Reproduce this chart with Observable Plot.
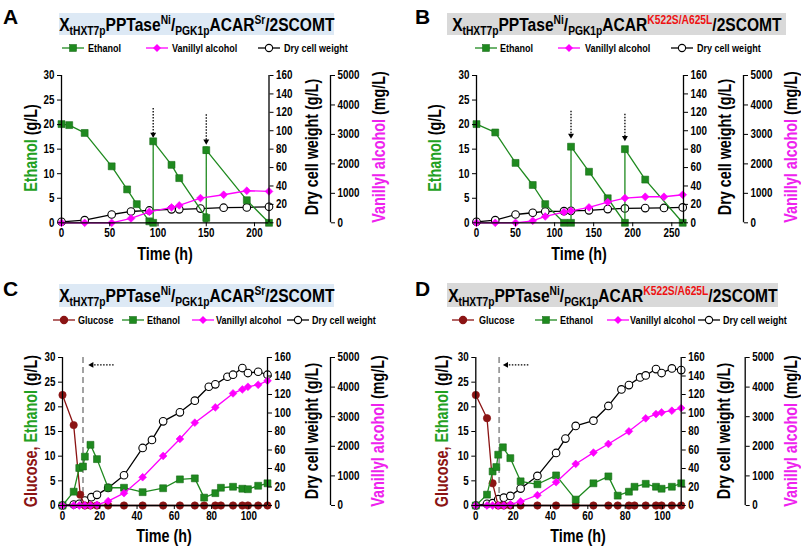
<!DOCTYPE html>
<html><head><meta charset="utf-8">
<script src="https://cdn.jsdelivr.net/npm/d3@7"></script>
<script src="https://cdn.jsdelivr.net/npm/@observablehq/plot@0.6"></script>
<style>
body{margin:0;background:#fff;}
#fig{position:relative;width:801px;height:550px;overflow:hidden;background:#fff;
 font-family:"Liberation Sans",Arial,sans-serif;font-weight:bold;color:#000;}
.abs{position:absolute;white-space:nowrap;line-height:1;}
.letter{font-size:21px;}
.tbox{position:absolute;display:flex;align-items:center;justify-content:center;white-space:nowrap;line-height:1;}
.tbox span.in{display:inline-block;font-size:19px;transform:scaleX(0.82);}
.tbox sub{font-size:12.5px;vertical-align:-4px;line-height:0;}
.tbox sup{font-size:12.5px;vertical-align:7px;line-height:0;}
.vt{position:absolute;white-space:nowrap;font-size:17.5px;line-height:1;transform:translate(-50%,-50%) rotate(-90deg) scaleX(0.82);}
.xt{position:absolute;white-space:nowrap;font-size:17.5px;line-height:1;transform:translate(-50%,-50%) scaleX(0.82);}
.legt{position:absolute;white-space:nowrap;font-size:11px;line-height:1;transform-origin:0 50%;transform:translateY(-50%) scaleX(0.82);}
.legi{position:absolute;transform:translateY(-50%);line-height:0;}
svg.plt{position:absolute;}
</style></head><body><div id="fig"></div><script>
// ---------- tick values ----------
const xTicksA = [0, 50, 100, 150, 200];
const xTicksB = [0, 50, 100, 150, 200, 250];
const xTicksCD = [0, 20, 40, 60, 80, 100];
const yTicksE = [0, 5, 10, 15, 20, 25, 30];
const yTicksDcw = [0, 20, 40, 60, 80, 100, 120, 140, 160];
const yTicksVan = [0, 1000, 2000, 3000, 4000, 5000];

// ---------- Panel A ----------
const aEthT = [0, 8, 24, 52, 68, 78, 91, 95, 95, 114, 122, 150, 150, 192, 215];
const aEthV = [20.1, 19.9, 18.3, 11.5, 6.8, 3.8, 0.3, 0, 16.6, 11.8, 9.1, 1.0, 14.8, 4.6, 0];
const aEthE = [0, 0, 0, 0, 0, 0, 0, 0, 0, 0, 0, 0.8, 0.6, 0, 0];
const aT = [0, 24, 52, 72, 91, 114, 122, 144, 168, 192, 215];
const aDcw = [1.1, 2.9, 9.0, 12.3, 13.4, 14.6, 14.6, 15.4, 16.4, 16.7, 17.4];
const aVan = [0, 0, 0, 147, 374, 522, 590, 839, 952, 1088, 1066];
const aArrT = [95, 150];
const aArrTop = [23.3, 22.0];
const aArrTip = [17.4, 16.0];

// ---------- Panel B ----------
const bEthT = [0, 24, 50, 72, 88, 112, 121, 121, 144, 168, 190, 190, 216, 264];
const bEthV = [20.1, 18.4, 12.2, 7.7, 3.8, 0, 0, 15.5, 10.4, 5.0, 0, 15.0, 8.8, 0];
const bT = [0, 24, 50, 72, 88, 112, 121, 144, 168, 190, 216, 240, 264];
const bDcw = [1.1, 2.9, 9.0, 10.9, 12.3, 12.6, 13.0, 13.5, 14.9, 15.6, 16.0, 16.2, 16.7];
const bVan = [0, 0, 0, 68, 215, 363, 408, 522, 703, 839, 884, 884, 952];
const bArrT = [121, 190];
const bArrTop = [22.7, 22.1];
const bArrTip = [17.2, 16.7];

// ---------- Panel C ----------
const cGluT = [0, 6, 9.5, 12, 15, 18.5, 24.5, 33, 43, 54, 63, 71, 76, 82, 85, 91.5, 96.5, 99.5, 105, 110];
const cGluV = [22.4, 16.3, 2.2, 0, 0, 0, 0, 0, 0, 0, 0, 0, 0, 0, 0, 0, 0, 0, 0, 0];
const cEthT = [0, 6, 9, 11, 12, 15, 18.5, 24.5, 33, 43, 54, 63, 71, 76, 82, 85, 91.5, 96.5, 99.5, 105, 110];
const cEthV = [0, 2.8, 7.6, 7.9, 9.9, 12.3, 9.4, 3.6, 3.6, 2.7, 3.5, 5.3, 5.5, 1.6, 2.5, 3.6, 3.8, 3.4, 3.3, 4.0, 4.5];
const cDcwT = [0, 6, 9, 12, 15.5, 18.5, 24.5, 33, 43, 48, 54, 63, 71, 78.5, 82, 88.5, 91.5, 96.5, 99.5, 105, 110];
const cDcwV = [0, 1.1, 1.8, 5.4, 9.0, 11.5, 19.0, 32.7, 62.2, 70.9, 91.0, 100.7, 113.3, 128.4, 131.0, 139.2, 141.4, 148.6, 143.2, 144.6, 141.4];
const cVanT = [0, 6, 9, 12, 15, 18.5, 24.5, 33, 43, 54, 63, 71, 82, 91.5, 96.5, 99.5, 105, 110];
const cVanV = [0, 0, 0, 0, 0, 22, 146, 416, 955, 1674, 2247, 2798, 3315, 3787, 3921, 4011, 4079, 4213];
const cShiftT = [11];
const cHArr = {x1: 27.7, x2: 14.3, y: 28.5};

// ---------- Panel D ----------
const dGluT = [0, 6, 9, 12, 15, 18.5, 24, 33, 43, 53.5, 63, 71, 76, 82, 85, 91, 96.5, 99.5, 105, 110];
const dGluV = [22.4, 17.7, 4.5, 0, 0, 0, 0, 0, 0, 0, 0, 0, 0, 0, 0, 0, 0, 0, 0, 0];
const dEthT = [0, 6, 9, 11, 12, 14.5, 18.5, 24, 33, 43, 53.5, 63, 71, 76, 82, 85, 91, 96.5, 99.5, 105, 110];
const dEthV = [0, 2.2, 6.9, 7.8, 10.3, 11.8, 9.6, 4.9, 4.3, 6.1, 1.2, 4.5, 5.9, 2.0, 2.8, 3.8, 4.4, 3.8, 3.4, 3.8, 4.5];
const dDcwT = [0, 6, 9, 12, 15, 18.5, 24, 33, 43, 48, 53.5, 63, 71, 78, 82, 88, 91, 96.5, 99.5, 105, 110];
const dDcwV = [0, 1.8, 2.5, 6.8, 8.5, 10.4, 18.3, 32.0, 56.8, 72.3, 86.0, 91.7, 107.6, 125.5, 130.2, 138.5, 140.6, 147.5, 143.2, 148.2, 146.4];
const dVanT = [0, 6, 9, 12, 15, 18.5, 24, 33, 43, 53.5, 63, 71, 82, 91, 96.5, 99.5, 105, 110];
const dVanV = [0, 0, 0, 0, 0, 34, 135, 348, 787, 1404, 1787, 2079, 2506, 2944, 3090, 3146, 3202, 3292];
const dShiftT = [12.5];
const dHArr = {x1: 28.4, x2: 15.0, y: 28.5};

// ---------- text ----------
const titleSr = 'X<sub>tHXT7p</sub>PPTase<sup>Ni</sup>/<sub>PGK1p</sub>ACAR<sup>Sr</sup>/2SCOMT';
const titleMut = 'X<sub>tHXT7p</sub>PPTase<sup>Ni</sup>/<sub>PGK1p</sub>ACAR<sup style="color:#ee1111">K522S/A625L</sup>/2SCOMT';

const GREEN = "#1f8a1f", GREENTXT = "#22a022", MAG = "#ff00ff", MAGTXT = "#ee22ee", DRED = "#8b1414";
const sty = {
  glucose: {label: "Glucose", stroke: DRED, fill: DRED, dotStroke: DRED, symbol: "circle", r: 3.7},
  ethanol: {label: "Ethanol", stroke: GREEN, fill: GREEN, dotStroke: "#176b17", symbol: "square", r: 3.9},
  vanillyl: {label: "Vanillyl alcohol", stroke: MAG, fill: MAG, dotStroke: MAG, symbol: "diamond2", r: 3.5},
  dcw: {label: "Dry cell weight", stroke: "#000", fill: "#fff", dotStroke: "#000", symbol: "circle", r: 3.8}
};

const zip = (t, v, e) => t.map((x, i) => ({t: x, v: v[i], e: e ? e[i] : 0}));
const toE = {
  ethanol: d3.scaleLinear([0, 30], [0, 30]),
  glucose: d3.scaleLinear([0, 30], [0, 30]),
  dcw: d3.scaleLinear([0, 160], [0, 30]),
  vanillyl: d3.scaleLinear([0, 5000], [0, 30])
};

const panels = [
  {left: 0, top: 0, mL: 61, mR: 131.5, mT: 75, mB: 52.7, xDomain: [0, 215], xTicks: xTicksA, vanDx: 61.5,
   series: {dcw: zip(aT, aDcw), ethanol: zip(aEthT, aEthV, aEthE), vanillyl: zip(aT, aVan)},
   vArrows: zip(aArrT, aArrTop).map((d, i) => ({t: d.t, top: d.v, tip: aArrTip[i]}))},
  {left: 400, top: 0, mL: 76, mR: 117, mT: 75, mB: 52.7, xDomain: [0, 265], xTicks: xTicksB, vanDx: 60,
   series: {dcw: zip(bT, bDcw), ethanol: zip(bEthT, bEthV), vanillyl: zip(bT, bVan)},
   vArrows: zip(bArrT, bArrTop).map((d, i) => ({t: d.t, top: d.v, tip: bArrTip[i]}))},
  {left: 0, top: 275, mL: 62, mR: 133, mT: 82, mB: 45, xDomain: [0, 110], xTicks: xTicksCD, vanDx: 63,
   series: {dcw: zip(cDcwT, cDcwV), glucose: zip(cGluT, cGluV), ethanol: zip(cEthT, cEthV), vanillyl: zip(cVanT, cVanV)},
   shift: cShiftT, hArrow: cHArr},
  {left: 400, top: 275, mL: 75.3, mR: 119.3, mT: 82, mB: 45, xDomain: [0, 110], xTicks: xTicksCD, vanDx: 64,
   series: {dcw: zip(dDcwT, dDcwV), glucose: zip(dGluT, dGluV), ethanol: zip(dEthT, dEthV), vanillyl: zip(dVanT, dVanV)},
   shift: dShiftT, hArrow: dHArr}
];

const fig = document.getElementById("fig");
const FONT = '"Liberation Sans",Arial,sans-serif';
const NARROW = 0.82;

function narrowTexts(svg) {
  svg.querySelectorAll("text").forEach(t => {
    const tr = t.getAttribute("transform");
    if (tr) {
      t.setAttribute("transform", tr + ` scale(${NARROW},1)`);
    } else {
      const x = +(t.getAttribute("x") || 0), y = +(t.getAttribute("y") || 0);
      t.removeAttribute("x"); t.removeAttribute("y");
      t.setAttribute("transform", `translate(${x},${y}) scale(${NARROW},1)`);
    }
  });
}

function makePlot(p) {
  const marks = [];
  const xmax = p.xDomain[1];
  if (p.shift) marks.push(Plot.ruleX(p.shift, {stroke: "#9a9a9a", strokeWidth: 1.8, strokeDasharray: "6,4"}));
  if (p.hArrow) {
    marks.push(Plot.ruleY([p.hArrow], {y: "y", x1: "x1", x2: d => d.x2 + 1.2, stroke: "#000", strokeWidth: 1.2, strokeDasharray: "1.5,1.5"}));
    marks.push(Plot.dot([p.hArrow], {x: "x2", y: "y", symbol: "triangle", rotate: -90, r: 2.2, fill: "#000", dx: 2.5}));
  }
  if (p.vArrows) {
    marks.push(Plot.ruleX(p.vArrows, {x: "t", y1: "top", y2: "tip", stroke: "#000", strokeWidth: 1.3, strokeDasharray: "1.5,1.5"}));
    marks.push(Plot.dot(p.vArrows, {x: "t", y: "tip", symbol: "triangle", rotate: 180, r: 2.2, fill: "#000", dy: -3}));
  }
  for (const key of ["dcw", "glucose", "ethanol", "vanillyl"]) {
    const data = p.series[key];
    if (!data) continue;
    const s = sty[key], f = toE[key];
    const errs = data.filter(d => d.e > 0);
    if (errs.length) {
      marks.push(Plot.ruleX(errs, {x: "t", y1: d => f(d.v - d.e), y2: d => f(d.v + d.e), stroke: s.stroke, strokeWidth: 1.2}));
      marks.push(Plot.ruleY(errs, {y: d => f(d.v + d.e), x1: d => d.t - 2.5, x2: d => d.t + 2.5, stroke: s.stroke, strokeWidth: 1.2}));
      marks.push(Plot.ruleY(errs, {y: d => f(d.v - d.e), x1: d => d.t - 2.5, x2: d => d.t + 2.5, stroke: s.stroke, strokeWidth: 1.2}));
    }
    marks.push(Plot.line(data, {x: "t", y: d => f(d.v), stroke: s.stroke, strokeWidth: 1.3}));
    marks.push(Plot.dot(data, {x: "t", y: d => f(d.v), symbol: s.symbol, r: s.r, fill: s.fill, stroke: s.dotStroke, strokeWidth: key === "dcw" ? 1.1 : 0.6}));
  }
  // spines
  marks.push(Plot.ruleY([0], {stroke: "#000", strokeWidth: 1.3}));
  marks.push(Plot.ruleX([p.xDomain[0]], {stroke: "#000", strokeWidth: 1.3}));
  marks.push(Plot.ruleX([xmax], {stroke: "#000", strokeWidth: 1.3}));
  marks.push(Plot.ruleX([xmax], {stroke: "#000", strokeWidth: 1.3, dx: p.vanDx}));
  // axes
  marks.push(Plot.axisX({ticks: p.xTicks, tickSize: 4, tickPadding: 2, label: null, tickFormat: d => String(d)}));
  marks.push(Plot.axisY({ticks: yTicksE, tickSize: 4, tickPadding: 3, label: null, tickFormat: d => String(d)}));
  marks.push(Plot.axisY(yTicksDcw.map(toE.dcw), {anchor: "right", tickSize: 4, tickPadding: 3, label: null,
    tickFormat: d => String(Math.round(toE.dcw.invert(d)))}));
  marks.push(Plot.axisY(yTicksVan.map(toE.vanillyl), {anchor: "right", tickSize: 4, tickPadding: 3, label: null, dx: p.vanDx,
    tickFormat: d => String(Math.round(toE.vanillyl.invert(d)))}));

  const svg = Plot.plot({
    width: 400, height: 275,
    marginLeft: p.mL, marginRight: p.mR, marginTop: p.mT, marginBottom: p.mB,
    x: {domain: p.xDomain, nice: false},
    y: {domain: [0, 30], nice: false},
    style: {fontFamily: FONT, fontSize: "12px", fontWeight: "bold", color: "#000", background: "transparent", overflow: "visible"},
    marks
  });
  narrowTexts(svg);
  svg.classList.add("plt");
  svg.style.left = p.left + "px";
  svg.style.top = p.top + "px";
  fig.appendChild(svg);
}
panels.forEach(makePlot);

// ---------- overlay text ----------
function add(cls, html, css) {
  const el = document.createElement("div");
  el.className = cls;
  el.innerHTML = html;
  Object.assign(el.style, css);
  fig.appendChild(el);
  return el;
}
const letters = [["A", 3, 6], ["B", 415, 6], ["C", 3, 278], ["D", 415, 278]];
letters.forEach(([t, x, y]) => add("abs letter", t, {left: x + "px", top: y + "px"}));

const boxes = [
  {html: titleSr, x: 59, y: 13, w: 275, h: 22, bg: "#dde9f5"},
  {html: titleMut, x: 447, y: 13, w: 339, h: 22, bg: "#d9d9d9"},
  {html: titleSr, x: 59, y: 284, w: 275, h: 23, bg: "#dde9f5"},
  {html: titleMut, x: 447, y: 283, w: 331, h: 24, bg: "#d9d9d9"}
];
boxes.forEach(b => add("tbox", `<span class="in">${b.html}</span>`, {left: b.x + "px", top: b.y + "px", width: b.w + "px", height: b.h + "px", background: b.bg}));

const ethTitle = `<span style="color:${GREENTXT}">Ethanol</span> (g/L)`;
const gluEthTitle = `<span style="color:${DRED}">Glucose,</span> <span style="color:${GREENTXT}">Ethanol</span> (g/L)`;
const dcwTitle = "Dry cell weight (g/L)";
const vanTitle = `<span style="color:${MAGTXT}">Vanillyl alcohol</span> (mg/L)`;
const vTitles = [
  [ethTitle, 32, 148], [dcwTitle, 313, 147], [vanTitle, 380, 147],
  [ethTitle, 436, 148], [dcwTitle, 726, 147], [vanTitle, 792, 147],
  [gluEthTitle, 32, 431], [dcwTitle, 313, 431], [vanTitle, 379, 431],
  [gluEthTitle, 443, 431], [dcwTitle, 725, 431], [vanTitle, 792, 431]
];
vTitles.forEach(([h, x, y]) => add("vt", h, {left: x + "px", top: y + "px"}));
const xTitles = [[165, 255], [579, 255], [164, 537], [578, 537]];
xTitles.forEach(([x, y]) => add("xt", "Time (h)", {left: x + "px", top: y + "px"}));

// ---------- legends ----------
function icon(s) {
  let m;
  if (s.symbol === "square") m = `<rect x="7.6" y="1.6" width="6.8" height="6.8" fill="${s.fill}" stroke="${s.dotStroke}" stroke-width="0.6"/>`;
  else if (s.symbol === "diamond2") m = `<polygon points="11,1 15,5 11,9 7,5" fill="${s.fill}"/>`;
  else m = `<circle cx="11" cy="5" r="3.6" fill="${s.fill}" stroke="${s.dotStroke}" stroke-width="1.1"/>`;
  return `<svg width="22" height="10" style="overflow:visible"><line x1="0" y1="5" x2="22" y2="5" stroke="${s.stroke}" stroke-width="1.3"/>${m}</svg>`;
}
const legends = [
  {y: 47.7, items: [["ethanol", 62, 88], ["vanillyl", 146, 172], ["dcw", 258, 284]]},
  {y: 47.7, items: [["ethanol", 475, 500], ["vanillyl", 558, 585], ["dcw", 671, 697]]},
  {y: 320, items: [["glucose", 53, 78], ["ethanol", 122, 147], ["vanillyl", 192, 216], ["dcw", 287, 312]]},
  {y: 320, items: [["glucose", 452, 479], ["ethanol", 535, 560], ["vanillyl", 607, 630], ["dcw", 698, 723]]}
];
legends.forEach(L => L.items.forEach(([k, x, tx]) => {
  add("legi", icon(sty[k]), {left: x + "px", top: L.y + "px"});
  add("legt", sty[k].label, {left: tx + "px", top: L.y + "px"});
}));
</script></body></html>
